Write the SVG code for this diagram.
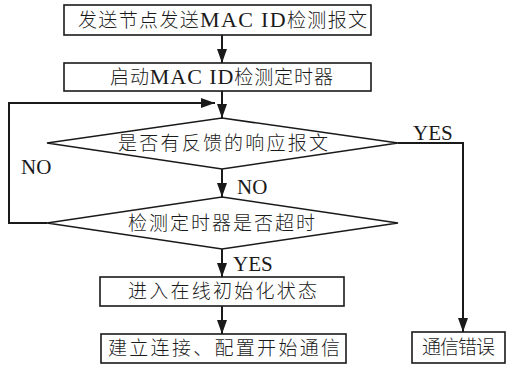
<svg xmlns="http://www.w3.org/2000/svg" width="517" height="365" viewBox="0 0 517 365">
<style>
.box{fill:#fff;stroke:#1a1a1a;stroke-width:1.6}
.t{font-family:"Noto Sans CJK SC","Liberation Serif",serif;font-size:19px;fill:#1a1a1a;font-weight:300}
.lat{font-family:"Liberation Serif",serif;font-size:22px;font-weight:normal}
.lbl{font-family:"Liberation Serif",serif;font-size:21px;fill:#1a1a1a;font-weight:normal}
.c{fill:none;stroke:#1a1a1a;stroke-width:2}
</style>
<defs>
<marker id="ah" viewBox="0 0 14 10" refX="14" refY="5" markerWidth="14" markerHeight="10" markerUnits="userSpaceOnUse" orient="auto">
<path d="M0,0 L14,5 L0,10 Z" fill="#1a1a1a"/>
</marker>
</defs>
<g id="connectors">
<line class="c" x1="222" y1="35" x2="222" y2="63" marker-end="url(#ah)"/>
<line class="c" x1="222" y1="91" x2="222" y2="118" marker-end="url(#ah)"/>
<polyline class="c" points="47,223 9,223 9,103 215,103" marker-end="url(#ah)"/>
<polyline class="c" points="398,143 463,143 463,332" marker-end="url(#ah)"/>
<line class="c" x1="222" y1="169" x2="222" y2="197" marker-end="url(#ah)"/>
<line class="c" x1="222" y1="249" x2="222" y2="277" marker-end="url(#ah)"/>
<line class="c" x1="222" y1="306" x2="222" y2="334" marker-end="url(#ah)"/>
<text class="lbl" x="413" y="140">YES</text>
<text class="lbl" x="21" y="174">NO</text>
<text class="lbl" x="237" y="194">NO</text>
<text class="lbl" x="233" y="271">YES</text>
</g>
<g id="n1">
<rect class="box" x="64" y="5" width="307" height="30"/>
<text class="t" x="78" y="27" textLength="289" lengthAdjust="spacing">发送节点发送<tspan class="lat">MAC ID</tspan>检测报文</text>
</g>
<g id="n2">
<rect class="box" x="64" y="63" width="307" height="28"/>
<text class="t" x="110" y="84" textLength="223" lengthAdjust="spacing">启动<tspan class="lat">MAC ID</tspan>检测定时器</text>
</g>
<g id="d1">
<polygon class="box" points="222,118 398,143 222,169 47,143"/>
<text class="t" x="118" y="150" textLength="210" lengthAdjust="spacing">是否有反馈的响应报文</text>
</g>
<g id="d2">
<polygon class="box" points="222,197 398,223 222,249 47,223"/>
<text class="t" x="128" y="230" textLength="187" lengthAdjust="spacing">检测定时器是否超时</text>
</g>
<g id="n3">
<rect class="box" x="100" y="277" width="244" height="29"/>
<text class="t" x="128" y="298" textLength="189" lengthAdjust="spacing">进入在线初始化状态</text>
</g>
<g id="n4">
<rect class="box" x="101" y="334" width="245" height="29"/>
<text class="t" x="108" y="355" textLength="232" lengthAdjust="spacing">建立连接、配置开始通信</text>
</g>
<g id="n5">
<rect class="box" x="412" y="332" width="93" height="31"/>
<text class="t" x="422" y="354" textLength="73" lengthAdjust="spacing">通信错误</text>
</g>
</svg>
